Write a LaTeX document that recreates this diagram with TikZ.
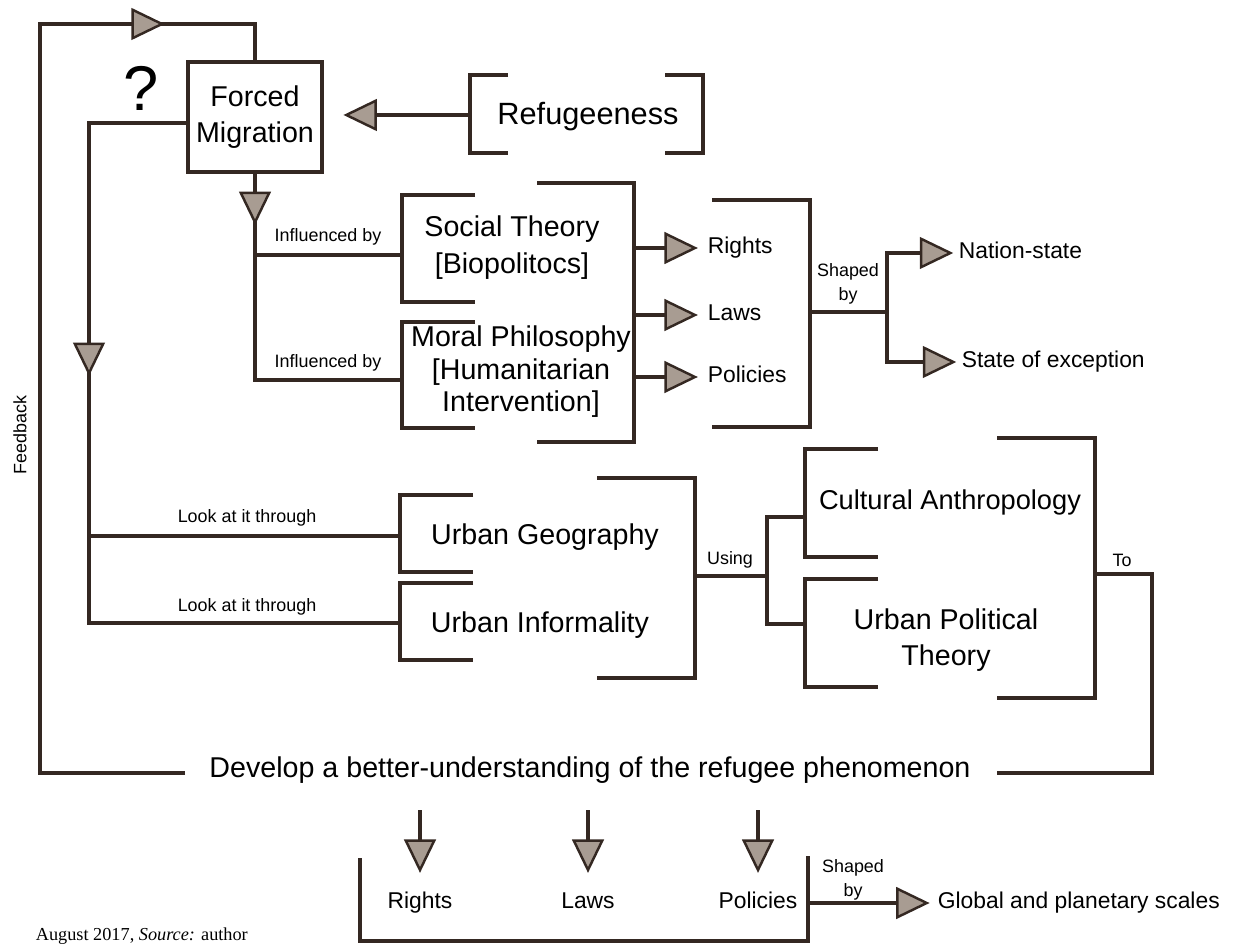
\documentclass[tikz,border=0pt]{standalone}
\usepackage{fontspec}
\setmainfont{Liberation Sans}
\newfontfamily\capfont{Liberation Serif}
\usepackage{tikz}
\usetikzlibrary{arrows.meta,positioning,calc,decorations.markings}
\definecolor{ink}{RGB}{52,40,34}
\definecolor{inkfill}{RGB}{168,156,146}

\begin{document}
\begin{tikzpicture}[
x=0.02cm,
y=-0.02cm,
every node/.style={text=black,inner sep=2pt},
big/.style={font=\fontsize{16.3}{20.4}\selectfont,align=center},
mid/.style={font=\fontsize{13}{15}\selectfont,text height=9.5pt,text depth=2.8pt},
tag/.style={font=\fontsize{10.2}{14}\selectfont,align=center},
wire/.style={draw=ink,line width=2.2pt},
brak/.style={draw=ink,line width=2.4pt},
tipA/.tip={Triangle[length=19pt,width=18pt,line width=1.4pt,fill=inkfill]},
arr/.style={wire,-tipA},
midarr/.style={postaction={decorate},decoration={markings,mark=at position #1 with {\arrow{tipA}}}}
]
\useasboundingbox (0,0) rectangle (1236,945);

% main boxes and texts
\node[draw=ink,line width=2.4pt,minimum width=2.68cm,minimum height=2.2cm,big] (forced) at (255,117) {Forced\\Migration};
\node[font=\fontsize{36}{40}\selectfont] (quest) at (141,88) {?};
\node[big,font=\fontsize{17.5}{20}\selectfont] (refug) at (588,117) {Refugeeness};
\node[big,font=\fontsize{16.3}{21}\selectfont] (social) at (512,248) {Social Theory\\{[}Biopolitocs{]}};
\node[big,font=\fontsize{16.3}{18.5}\selectfont] (moral) at (521,372) {Moral Philosophy\\{[}Humanitarian\\Intervention{]}};
\node[mid,anchor=west] (rights1) at (704,248) {Rights};
\node[mid,anchor=west] (laws1) at (704,315) {Laws};
\node[mid,anchor=west] (policies1) at (704,377) {Policies};
\node[mid,anchor=west] (nation) at (955,253) {Nation-state};
\node[mid,anchor=west] (except) at (958,362) {State of exception};
\node[big] (urbgeo) at (545,537) {Urban Geography};
\node[big] (urbinf) at (540,625) {Urban Informality};
\node[big,font=\fontsize{15.5}{18}\selectfont] (cultural) at (950,502) {Cultural Anthropology};
\node[big] (urbpol) at (946,640) {Urban Political\\Theory};
\node[font=\fontsize{16.3}{19}\selectfont] (develop) at (590,770) {Develop a better-understanding of the refugee phenomenon};
\node[mid] (rights2) at (420,903) {Rights};
\node[mid] (laws2) at (588,903) {Laws};
\node[mid] (policies2) at (758,903) {Policies};
\node[mid,anchor=west] (global) at (934,903) {Global and planetary scales};
\node[anchor=west,font=\capfont\fontsize{10.4}{12}\selectfont] (caption) at (32,936) {August 2017, \textit{Source:} author};

% small labels
\node[tag] (infl1) at (328,237) {Influenced by};
\node[tag] (infl2) at (328,363) {Influenced by};
\node[tag] (look1) at (247,518) {Look at it through};
\node[tag] (look2) at (247,607) {Look at it through};
\node[tag] (shape1) at (848,284) {Shaped\\by};
\node[tag] (shape2) at (853,880) {Shaped\\by};
\node[tag] (using) at (730,560) {Using};
\node[tag] (to) at (1122,560) {To};
\node[tag,rotate=90] (feedb) at (20,435) {Feedback};

% brackets
\draw[brak] (508,75) -- (470,75) -- (470,153) -- (508,153);
\draw[brak] (665,75) -- (703,75) -- (703,153) -- (665,153);
\draw[brak] (475,195) -- (402,195) -- (402,302) -- (475,302);
\draw[brak] (475,322) -- (402,322) -- (402,428) -- (475,428);
\draw[brak] (537,183) -- (634,183) -- (634,442) -- (537,442);
\draw[brak] (712,200) -- (810,200) -- (810,427) -- (712,427);
\draw[brak] (473,495) -- (400,495) -- (400,572) -- (473,572);
\draw[brak] (473,583) -- (400,583) -- (400,660) -- (473,660);
\draw[brak] (597,478) -- (695,478) -- (695,678) -- (597,678);
\draw[brak] (878,449) -- (805,449) -- (805,557) -- (878,557);
\draw[brak] (878,579) -- (805,579) -- (805,687) -- (878,687);
\draw[brak] (997,438) -- (1095,438) -- (1095,698) -- (997,698);
\draw[brak] (360,858) -- (360,941) -- (808,941) -- (808,856);

% connector ends
\coordinate (refspine) at (470,115);
\coordinate (socspine) at (402,255);
\coordinate (morspine) at (402,380);
\coordinate (ethR) at (634,313);
\coordinate (lawR) at (810,312);
\coordinate (shapeFork) at (887,312);
\coordinate (loopTop) at (89,123);
\coordinate (geoSpine) at (400,536);
\coordinate (infSpine) at (400,623);
\coordinate (urbR) at (695,576);
\coordinate (useFork) at (767,576);
\coordinate (culSpine) at (805,517);
\coordinate (polSpine) at (805,624);
\coordinate (theoR) at (1095,574);
\coordinate (toCorner) at (1152,574);
\coordinate (toEnd) at (997,773);
\coordinate (fbStart) at (185,773);
\coordinate (fbCorner) at (40,773);
\coordinate (fbTop) at (40,24);
\coordinate (stemTop) at (0,810);
\coordinate (polsR) at (808,903);

% connectors
\draw[arr,shorten >=11pt] (refspine) -- (refspine -| forced.east);
\draw[wire,midarr=1.02cm] (forced.south) -- (forced.south |- morspine) -- (morspine);
\draw[wire] (forced.south |- socspine) -- (socspine);
\draw[wire,midarr=7.0cm] ($(forced.west)+(0,6)$) -- (loopTop) -- (loopTop |- infSpine) -- (infSpine);
\draw[wire] (loopTop |- geoSpine) -- (geoSpine);
\draw[wire,midarr=20.38cm] (fbStart) -- (fbCorner) -- (fbTop) -| (forced.north);
\draw[wire] (theoR) -- (toCorner) |- (toEnd);
\foreach \n in {rights1,laws1,policies1}
  \draw[arr,shorten >=3.5pt] (ethR |- \n) -- (\n.west);
\draw[wire] (lawR) -- (shapeFork);
\draw[arr,shorten >=1pt] (shapeFork) |- (nation.west);
\draw[arr,shorten >=1pt] (shapeFork) |- (except.west);
\draw[wire] (urbR) -- (useFork);
\draw[wire] (culSpine) -| (useFork) |- (polSpine);
\foreach \n in {rights2,laws2,policies2}
  \draw[arr,shorten >=8.8pt] (\n |- stemTop) -- (\n.north);
\draw[arr,shorten >=2.5pt] (polsR) -- (global.west);
\end{tikzpicture}
\end{document}
